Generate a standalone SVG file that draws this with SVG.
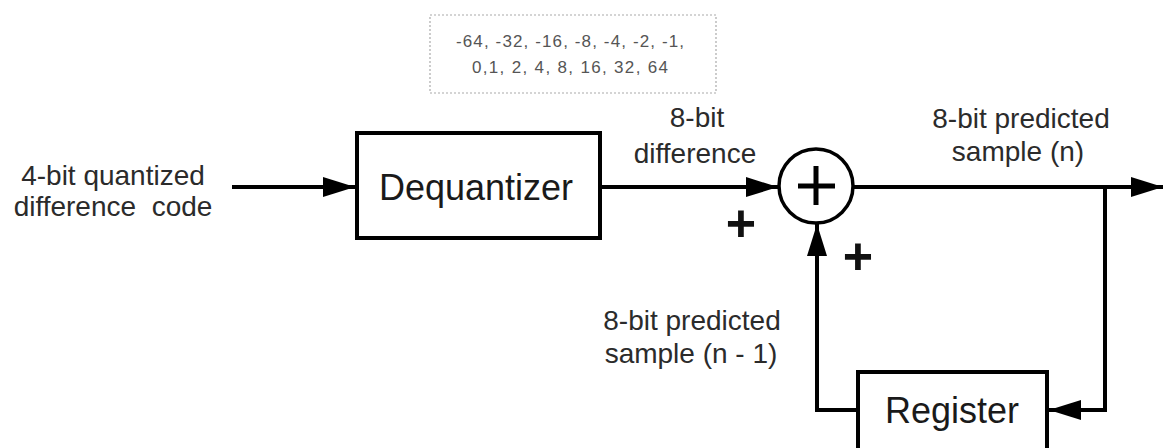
<svg xmlns="http://www.w3.org/2000/svg" width="1164" height="448" viewBox="0 0 1164 448">
  <style>
    .box { fill: #ffffff; stroke: #000000; stroke-width: 4; }
    .wire { fill: none; stroke: #000000; stroke-width: 4; }
    .lbl { font-family: "Liberation Sans", Arial, sans-serif; font-size: 28px; fill: #2b2b2b; text-anchor: middle; }
    .big { font-family: "Liberation Sans", Arial, sans-serif; font-size: 36px; fill: #1a1a1a; text-anchor: middle; }
    .sign { font-family: "Liberation Sans", Arial, sans-serif; font-size: 52px; font-weight: bold; fill: #111111; text-anchor: middle; }
    .note { font-family: "Liberation Sans", Arial, sans-serif; font-size: 17px; fill: #555555; text-anchor: middle; }
  </style>
  <defs>
    <marker id="arrow" markerUnits="userSpaceOnUse" markerWidth="34" markerHeight="22" refX="32" refY="11" orient="auto">
      <path d="M0,1 L32,11 L0,21 Z" fill="#000000"/>
    </marker>
  </defs>

  <rect width="1164" height="448" fill="#ffffff"/>

  <!-- value table of the dequantizer -->
  <g id="levels">
    <rect x="430" y="15" width="286" height="78" fill="none" stroke="#aaaaaa" stroke-width="1.2" stroke-dasharray="2 2"/>
    <text class="note" x="570" y="47" textLength="228">-64, -32, -16, -8, -4, -2, -1,</text>
    <text class="note" x="570" y="73" textLength="196">0,1, 2, 4, 8, 16, 32, 64</text>
  </g>

  <!-- connectors -->
  <g id="connectors">
    <path class="wire" d="M232,187 H355" marker-end="url(#arrow)"/>
    <path class="wire" d="M600,187 H778" marker-end="url(#arrow)"/>
    <path class="wire" d="M853,187 H1163" marker-end="url(#arrow)"/>
    <path class="wire" d="M1105,187 V410 H1049" marker-end="url(#arrow)"/>
    <path class="wire" d="M858,410 H817 V224" marker-end="url(#arrow)"/>
  </g>

  <g id="input-label">
    <text class="lbl" x="113" y="185">4-bit quantized</text>
    <text class="lbl" x="113" y="216" xml:space="preserve">difference  code</text>
  </g>

  <g id="dequantizer">
    <rect class="box" x="357" y="133" width="243" height="105"/>
    <text class="big" x="476" y="200">Dequantizer</text>
  </g>

  <g id="difference-label">
    <text class="lbl" x="697" y="127">8-bit</text>
    <text class="lbl" x="695" y="163">difference</text>
    <text class="sign" x="741" y="241">+</text>
  </g>

  <g id="adder">
    <circle cx="816" cy="186" r="37" fill="#ffffff" stroke="#000000" stroke-width="3.5"/>
    <path d="M798,186 H835 M816,166 V205" stroke="#000000" stroke-width="5" fill="none"/>
  </g>

  <g id="output-label">
    <text class="lbl" x="1021" y="128">8-bit predicted</text>
    <text class="lbl" x="1018" y="161">sample (n)</text>
  </g>

  <g id="feedback-label">
    <text class="sign" x="858" y="274">+</text>
    <text class="lbl" x="692" y="330">8-bit predicted</text>
    <text class="lbl" x="691" y="363">sample (n - 1)</text>
  </g>

  <g id="register">
    <rect class="box" x="858" y="372" width="189" height="82"/>
    <text class="big" x="952" y="423">Register</text>
  </g>
</svg>
